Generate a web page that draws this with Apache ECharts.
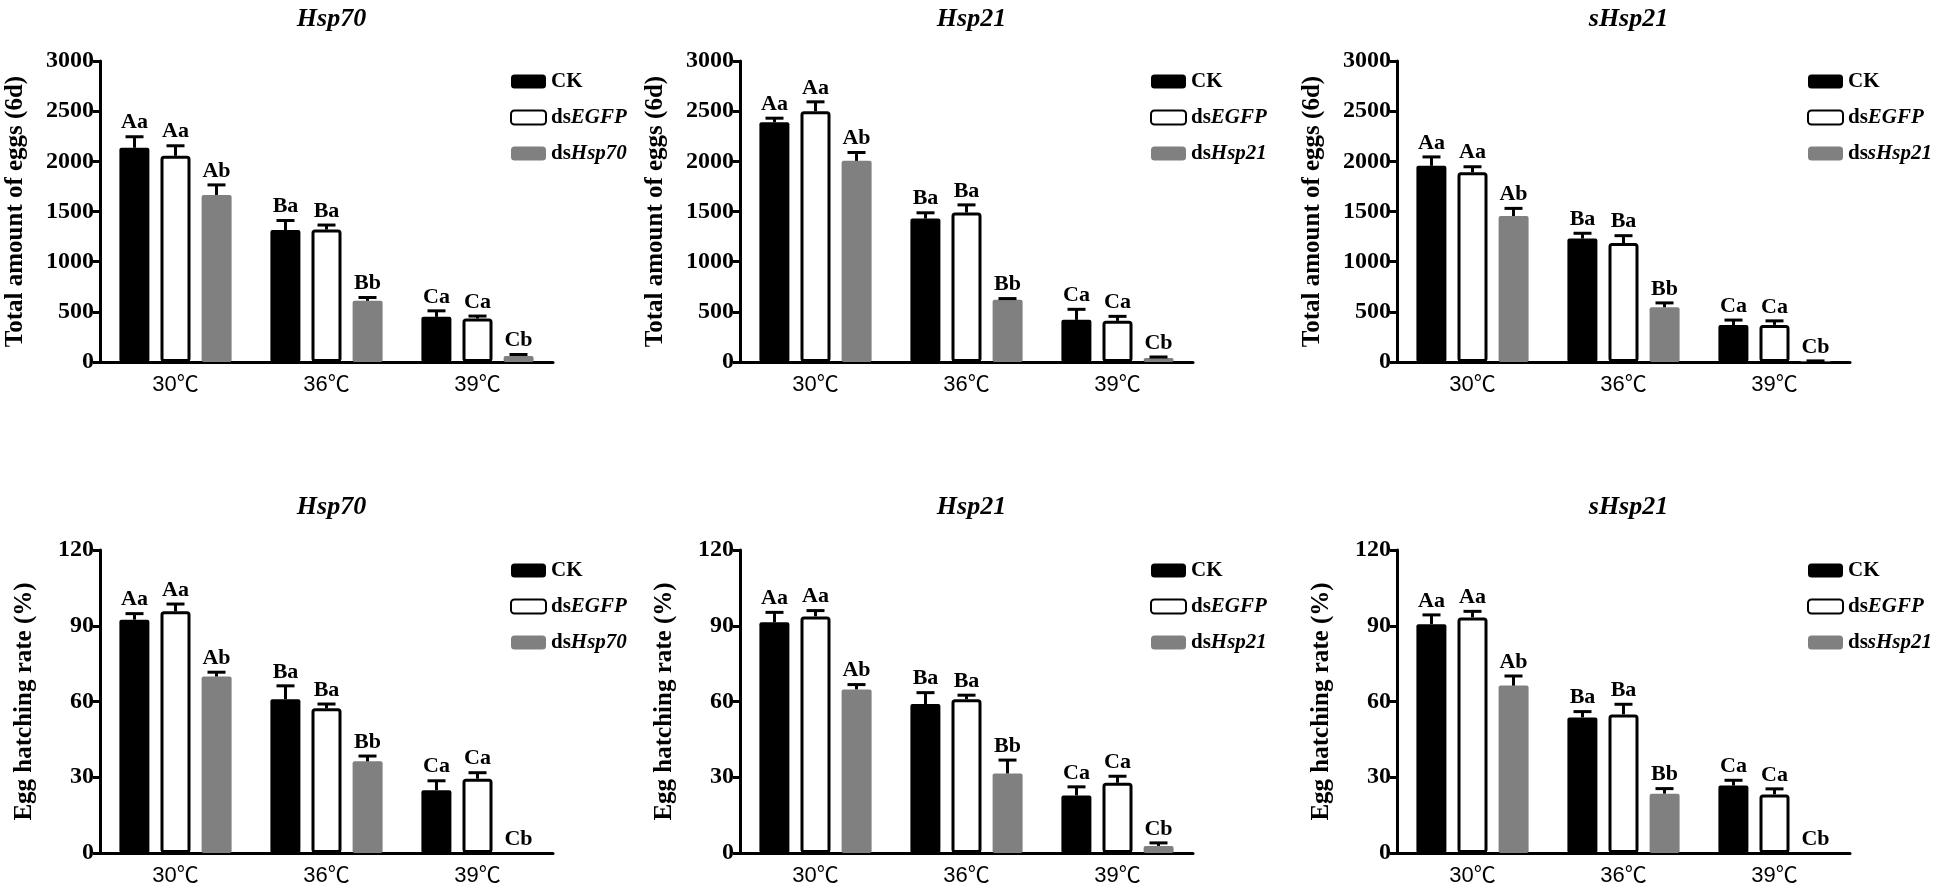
<!DOCTYPE html>
<html><head><meta charset="utf-8">
<script src="https://cdn.jsdelivr.net/npm/echarts@6/dist/echarts.min.js"></script>
<style>html,body{margin:0;padding:0;background:#fff}#c{width:1952px;height:889px}</style>
</head><body><div id="c"></div>
<script>
// ---------- data ----------
const categories = ['30℃', '36℃', '39℃'];
const panelTitles = ['Hsp70', 'Hsp21', 'sHsp21'];
const knockdownNames = ['dsHsp70', 'dsHsp21', 'dssHsp21'];
const lettersCK = ['Aa', 'Ba', 'Ca'];
const lettersEGFP = ['Aa', 'Ba', 'Ca'];
const lettersDs = ['Ab', 'Bb', 'Cb'];
const eggsAxisName = 'Total amount of eggs (6d)';
const hatchAxisName = 'Egg hatching rate (%)';

// Total amount of eggs (6d)
const eggsHsp70CK = [2135, 1315, 450];
const eggsHsp70CKsd = [110, 95, 60];
const eggsHsp70EGFP = [2055, 1320, 433];
const eggsHsp70EGFPsd = [100, 45, 25];
const eggsHsp70Ds = [1665, 610, 60];
const eggsHsp70Dssd = [100, 33, 15];

const eggsHsp21CK = [2390, 1430, 420];
const eggsHsp21CKsd = [40, 57, 105];
const eggsHsp21EGFP = [2500, 1490, 410];
const eggsHsp21EGFPsd = [93, 76, 45];
const eggsHsp21Ds = [2005, 620, 40];
const eggsHsp21Dssd = [83, 12, 10];

const eggsSHsp21CK = [1955, 1230, 368];
const eggsSHsp21CKsd = [89, 53, 50];
const eggsSHsp21EGFP = [1890, 1186, 370];
const eggsSHsp21EGFPsd = [56, 73, 40];
const eggsSHsp21Ds = [1455, 546, 8];
const eggsSHsp21Dssd = [76, 43, 3];

// Egg hatching rate (%)
const hatchHsp70CK = [92.4, 60.9, 24.9];
const hatchHsp70CKsd = [2.4, 5.3, 3.7];
const hatchHsp70EGFP = [95.7, 57.3, 29.4];
const hatchHsp70EGFPsd = [2.9, 1.7, 2.4];
const hatchHsp70Ds = [69.9, 36.3, 0];
const hatchHsp70Dssd = [1.7, 2.1, 0];

const hatchHsp21CK = [91.4, 59.0, 22.8];
const hatchHsp21CKsd = [3.9, 4.5, 3.4];
const hatchHsp21EGFP = [93.7, 60.9, 27.8];
const hatchHsp21EGFPsd = [2.3, 1.6, 2.6];
const hatchHsp21Ds = [64.8, 31.5, 2.8];
const hatchHsp21Dssd = [1.9, 5.3, 1.2];

const hatchSHsp21CK = [90.6, 53.7, 26.7];
const hatchSHsp21CKsd = [3.7, 2.3, 2.1];
const hatchSHsp21EGFP = [93.3, 54.9, 23.2];
const hatchSHsp21EGFPsd = [2.4, 4.0, 2.2];
const hatchSHsp21Ds = [66.3, 23.5, 0];
const hatchSHsp21Dssd = [3.8, 2.0, 0];

const eggsPanels = [
  [[eggsHsp70CK, eggsHsp70CKsd], [eggsHsp70EGFP, eggsHsp70EGFPsd], [eggsHsp70Ds, eggsHsp70Dssd]],
  [[eggsHsp21CK, eggsHsp21CKsd], [eggsHsp21EGFP, eggsHsp21EGFPsd], [eggsHsp21Ds, eggsHsp21Dssd]],
  [[eggsSHsp21CK, eggsSHsp21CKsd], [eggsSHsp21EGFP, eggsSHsp21EGFPsd], [eggsSHsp21Ds, eggsSHsp21Dssd]]
];
const hatchPanels = [
  [[hatchHsp70CK, hatchHsp70CKsd], [hatchHsp70EGFP, hatchHsp70EGFPsd], [hatchHsp70Ds, hatchHsp70Dssd]],
  [[hatchHsp21CK, hatchHsp21CKsd], [hatchHsp21EGFP, hatchHsp21EGFPsd], [hatchHsp21Ds, hatchHsp21Dssd]],
  [[hatchSHsp21CK, hatchSHsp21CKsd], [hatchSHsp21EGFP, hatchSHsp21EGFPsd], [hatchSHsp21Ds, hatchSHsp21Dssd]]
];

// ---------- styling / layout ----------
const SERIF = "'Times New Roman','Liberation Serif',serif";
const SANS = "'Liberation Sans','Arial','Noto Sans CJK SC',sans-serif";
const BW = 30, PITCH = 41;
const colLefts = [100, 740, 1397];
const GW = 453;
const rowDefs = [
  { top: 61, height: 301, max: 3000, interval: 500, axisName: eggsAxisName, nameGap: 72, titleTop: 1, legendTop: 66, panels: eggsPanels },
  { top: 550, height: 303, max: 120, interval: 30, axisName: hatchAxisName, nameGap: 63, titleTop: 489, legendTop: 555, panels: hatchPanels }
];
const barStyles = [
  { color: '#000000', borderColor: '#000000', borderWidth: 0, borderRadius: 2 },
  { color: '#ffffff', borderColor: '#000000', borderWidth: 3, borderRadius: 2 },
  { color: '#808080', borderColor: '#808080', borderWidth: 0, borderRadius: 2 }
];
const letterSets = [lettersCK, lettersEGFP, lettersDs];

function errRenderer(off, letters) {
  return function (params, api) {
    const cat = api.value(0), v = api.value(1), sd = api.value(2);
    const p0 = api.coord([cat, v]);
    const p1 = api.coord([cat, v + sd]);
    const x = p0[0] + off * PITCH;
    const ch = [];
    if (sd > 0) {
      ch.push({ type: 'line', shape: { x1: x, y1: p0[1], x2: x, y2: p1[1] }, style: { stroke: '#000', lineWidth: 3 } });
      ch.push({ type: 'line', shape: { x1: x - 9, y1: p1[1], x2: x + 9, y2: p1[1] }, style: { stroke: '#000', lineWidth: 3 } });
    }
    ch.push({ type: 'text', x: x, y: p1[1] - 3,
      style: { text: letters[params.dataIndex], align: 'center', verticalAlign: 'bottom',
        textAlign: 'center', textVerticalAlign: 'bottom',
        font: 'bold 22px ' + SERIF, fill: '#000' } });
    return { type: 'group', children: ch };
  };
}

function legendFmt(name) {
  if (name === 'CK') return '{r|CK}';
  return '{r|ds}{i|' + name.slice(2) + '}';
}

const option = { animation: false, backgroundColor: '#fff',
  title: [], grid: [], xAxis: [], yAxis: [], legend: [], series: [] };

let gi = 0;
rowDefs.forEach(function (row) {
  for (let c = 0; c < 3; c++) {
    const left = colLefts[c];
    const names = ['CK', 'dsEGFP', knockdownNames[c]];
    option.title.push({ text: panelTitles[c], left: left + GW / 2, top: row.titleTop, textAlign: 'center',
      textStyle: { fontFamily: SERIF, fontStyle: 'italic', fontWeight: 'bold', fontSize: 26, color: '#000' } });
    option.grid.push({ left: left, top: row.top, width: GW, height: row.height, containLabel: false });
    option.xAxis.push({ type: 'category', gridIndex: gi, data: categories,
      axisLine: { lineStyle: { color: '#000', width: 3 } },
      axisTick: { alignWithLabel: true, length: 7, lineStyle: { color: '#000', width: 3 } },
      axisLabel: { margin: 12, fontSize: 22, color: '#000', fontFamily: SANS } });
    option.yAxis.push({ type: 'value', gridIndex: gi, min: 0, max: row.max, interval: row.interval,
      axisLine: { show: true, lineStyle: { color: '#000', width: 3 } },
      axisTick: { show: true, length: 7, lineStyle: { color: '#000', width: 3 } },
      splitLine: { show: false },
      axisLabel: { margin: 6, fontSize: 24, fontWeight: 'bold', color: '#000', fontFamily: SERIF,
        formatter: function (v) { return String(v); } },
      name: row.axisName, nameLocation: 'middle', nameGap: row.nameGap,
      nameTextStyle: { fontSize: 25, fontWeight: 'bold', color: '#000', fontFamily: SERIF } });
    option.legend.push({ orient: 'vertical', left: left + 405, top: row.legendTop, itemWidth: 35, itemHeight: 14, itemGap: 15,
      icon: 'roundRect', data: names, formatter: legendFmt, selectedMode: false,
      textStyle: { color: '#000', rich: {
        r: { fontFamily: SERIF, fontWeight: 'bold', fontSize: 21, color: '#000' },
        i: { fontFamily: SERIF, fontWeight: 'bold', fontStyle: 'italic', fontSize: 21, color: '#000' } } } });
    const panel = row.panels[c];
    for (let s = 0; s < 3; s++) {
      option.series.push({ type: 'bar', name: names[s], xAxisIndex: gi, yAxisIndex: gi,
        data: panel[s][0], barWidth: BW, barGap: '37%', itemStyle: barStyles[s], z: 2 });
    }
    for (let s = 0; s < 3; s++) {
      option.series.push({ type: 'custom', name: names[s] + ' err', xAxisIndex: gi, yAxisIndex: gi,
        data: panel[s][0].map(function (v, k) { return [k, v, panel[s][1][k]]; }),
        encode: { x: 0, y: 1 }, renderItem: errRenderer(s - 1, letterSets[s]), z: 5, clip: false });
    }
    gi++;
  }
});

const chart = echarts.init(document.getElementById('c'), null, { renderer: 'canvas' });
chart.setOption(option);
</script>
</body></html>
